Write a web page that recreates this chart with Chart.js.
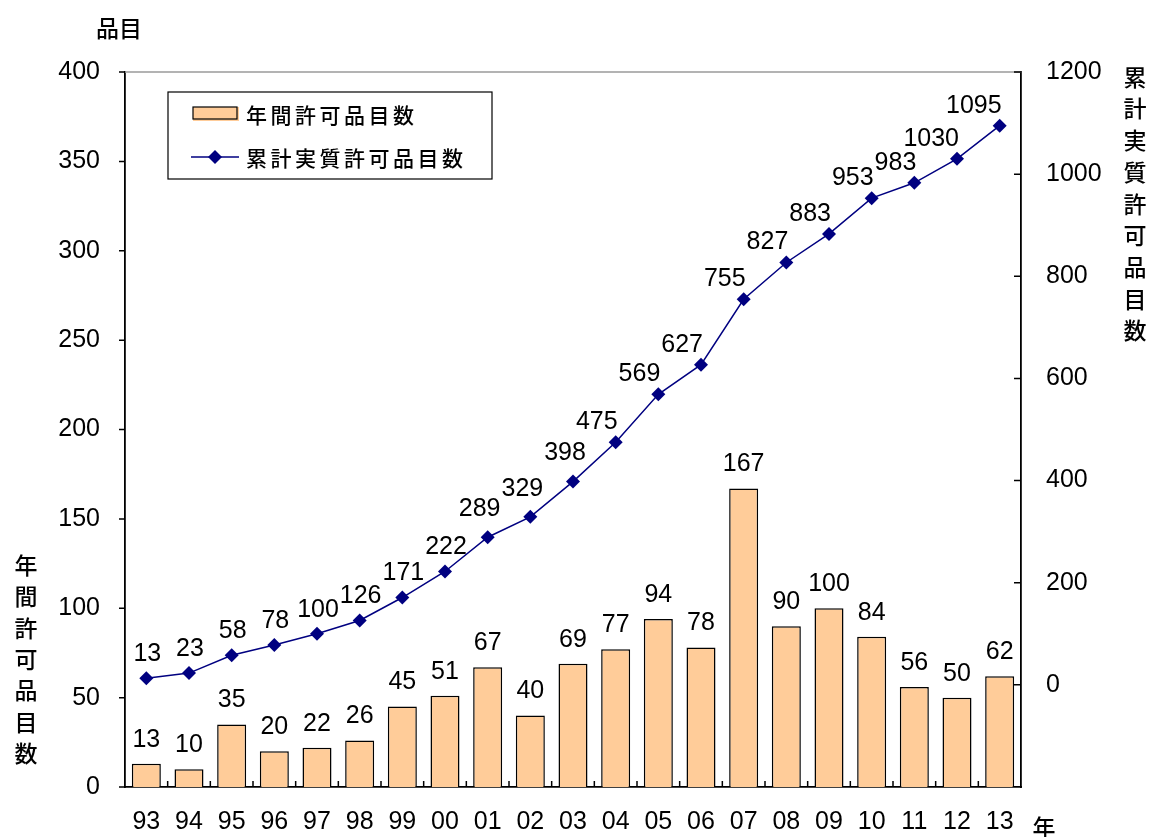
<!DOCTYPE html>
<html>
<head>
<meta charset="utf-8">
<script src="https://cdn.jsdelivr.net/npm/chart.js@4"></script>
<style>
  html, body { margin: 0; padding: 0; background: #fff; }
  #wrap { width: 1150px; height: 837px; }
</style>
</head>
<body>
<div id="wrap"><canvas id="myChart"></canvas></div>
<script>
// datos
const years = ['93', '94', '95', '96', '97', '98', '99', '00', '01', '02', '03',
    '04', '05', '06', '07', '08', '09', '10', '11', '12', '13'];
const annualItems = [13, 10, 35, 20, 22, 26, 45, 51, 67, 40, 69, 77, 94, 78, 167, 90, 100, 84, 56, 50, 62];
const totalItems = [13, 23, 58, 78, 100, 126, 171, 222, 289, 329, 398, 475, 569, 627, 755, 827, 883, 953, 983, 1030, 1095];
const leftTicks = { min: 0, max: 400, step: 50 };
const rightTicks = { min: -200, max: 1200, step: 200 };

const numFont = '"Liberation Sans", Arial, sans-serif';
const cjkFont = '"Noto Sans CJK JP", sans-serif';

/* dibuja texto con espacio entre letras */
function spaced(ctx, text, x, y, gap) {
    for (const ch of text) {
        ctx.fillText(ch, x, y);
        x += ctx.measureText(ch).width + gap;
    }
}

function vertical(ctx, text, x, y, step) {
    ctx.textAlign = 'center';
    for (const ch of text) {
        ctx.fillText(ch, x, y);
        y += step;
    }
}

const decorPlugin = {
    id: 'decor',
    afterDatasetsDraw(chart) {
        const ctx = chart.ctx;
        const area = chart.chartArea;
        const sx = chart.scales.x, sy = chart.scales.y, sy1 = chart.scales.y1;
        ctx.save();
        // borde superior gris
        ctx.strokeStyle = '#9a9a9a';
        ctx.lineWidth = 1.5;
        ctx.beginPath();
        ctx.moveTo(area.left, area.top);
        ctx.lineTo(area.right, area.top);
        ctx.stroke();
        // marcas de los ejes
        ctx.strokeStyle = '#000';
        ctx.lineWidth = 1.5;
        ctx.beginPath();
        sy.ticks.forEach(t => {
            const y = sy.getPixelForValue(t.value);
            ctx.moveTo(area.left - 6, y);
            ctx.lineTo(area.left, y);
        });
        sy1.ticks.forEach(t => {
            if (t.value < 0) return;
            const y = sy1.getPixelForValue(t.value);
            ctx.moveTo(area.right - 7, y);
            ctx.lineTo(area.right, y);
        });
        const half = (sx.getPixelForValue(1) - sx.getPixelForValue(0)) / 2;
        for (let i = 1; i < years.length; i++) {
            const x = sx.getPixelForValue(i) - half;
            ctx.moveTo(x, area.bottom);
            ctx.lineTo(x, area.bottom - 6);
        }
        ctx.stroke();

        // etiquetas de datos
        ctx.fillStyle = '#000';
        ctx.font = '25px ' + numFont;
        ctx.textBaseline = 'middle';
        const barMeta = chart.getDatasetMeta(1);
        barMeta.data.forEach((el, i) => {
            ctx.textAlign = 'center';
            ctx.fillText(String(annualItems[i]), el.x, el.y - 24);
        });
        const lineMeta = chart.getDatasetMeta(0);
        lineMeta.data.forEach((el, i) => {
            if (i < 8) {
                ctx.textAlign = 'center';
                ctx.fillText(String(totalItems[i]), el.x + 1, el.y - 24);
            } else if (i < 11) {
                ctx.textAlign = 'center';
                ctx.fillText(String(totalItems[i]), el.x - 8, el.y - 28);
            } else {
                ctx.textAlign = 'right';
                ctx.fillText(String(totalItems[i]), el.x + 2, el.y - 20);
            }
        });

        // leyenda
        ctx.lineWidth = 1.2;
        ctx.strokeRect(168, 92, 324, 87);
        ctx.fillStyle = '#FFCC99';
        ctx.fillRect(193, 107, 46, 14);
        ctx.strokeRect(193, 107, 44, 12);
        ctx.strokeStyle = '#000080';
        ctx.lineWidth = 1.5;
        ctx.beginPath();
        ctx.moveTo(191, 157);
        ctx.lineTo(239, 157);
        ctx.stroke();
        ctx.fillStyle = '#000080';
        ctx.beginPath();
        ctx.moveTo(215, 150); ctx.lineTo(222, 157); ctx.lineTo(215, 164); ctx.lineTo(208, 157);
        ctx.closePath();
        ctx.fill();
        ctx.fillStyle = '#000';
        ctx.font = '500 21px ' + cjkFont;
        ctx.textAlign = 'left';
        spaced(ctx, chart.data.datasets[1].label, 246, 115, 3.5);
        spaced(ctx, chart.data.datasets[0].label, 246, 158, 3.5);

        // titulos de ejes
        ctx.font = '500 23px ' + cjkFont;
        ctx.textAlign = 'center';
        ctx.fillText('品目', 119, 28);
        ctx.fillText('年', 1044, 827);
        vertical(ctx, '年間許可品目数', 26, 565, 31.4);
        vertical(ctx, '累計実質許可品目数', 1135, 77, 31.7);
        ctx.restore();
    }
};

const ctx = document.getElementById('myChart');
const myChart = new Chart(ctx, {
    type: 'bar',
    data: {
        labels: years,
        datasets: [{
            type: 'line',
            label: '累計実質許可品目数',
            data: totalItems,
            yAxisID: 'y1',
            order: 0,
            borderColor: '#000080',
            borderWidth: 1.5,
            backgroundColor: '#000080',
            pointStyle: 'rectRot',
            pointRadius: 7,
            pointBorderWidth: 0,
            tension: 0
        }, {
            type: 'bar',
            label: '年間許可品目数',
            data: annualItems,
            yAxisID: 'y',
            order: 1,
            backgroundColor: '#FFCC99',
            borderColor: '#000',
            borderWidth: 1.5,
            barPercentage: 0.68,
            categoryPercentage: 1
        }]
    },
    options: {
        responsive: true,
        maintainAspectRatio: false,
        animation: false,
        layout: { padding: { top: 72, left: 0, right: 0, bottom: 0 } },
        plugins: {
            legend: { display: false },
            tooltip: { enabled: false }
        },
        scales: {
            x: {
                grid: { display: false, drawTicks: false },
                border: { display: true, color: '#000', width: 1.8 },
                ticks: {
                    color: '#000',
                    font: { family: numFont, size: 25 },
                    padding: 20,
                    maxRotation: 0,
                    autoSkip: false
                },
                afterFit(scale) { scale.height = 50; }
            },
            y: {
                position: 'left',
                min: leftTicks.min,
                max: leftTicks.max,
                grid: { display: false, drawTicks: false },
                border: { display: true, color: '#000', width: 1.8 },
                ticks: {
                    stepSize: leftTicks.step,
                    color: '#000',
                    font: { family: numFont, size: 25 },
                    padding: 25
                },
                afterFit(scale) { scale.width = 125; }
            },
            y1: {
                position: 'right',
                min: rightTicks.min,
                max: rightTicks.max,
                grid: { display: false, drawTicks: false },
                border: { display: true, color: '#000', width: 1.8 },
                ticks: {
                    stepSize: rightTicks.step,
                    color: '#000',
                    font: { family: numFont, size: 25 },
                    padding: 25,
                    callback: (v) => v < 0 ? '' : v
                },
                afterFit(scale) { scale.width = 129; }
            }
        }
    },
    plugins: [decorPlugin]
});
</script>
</body>
</html>
